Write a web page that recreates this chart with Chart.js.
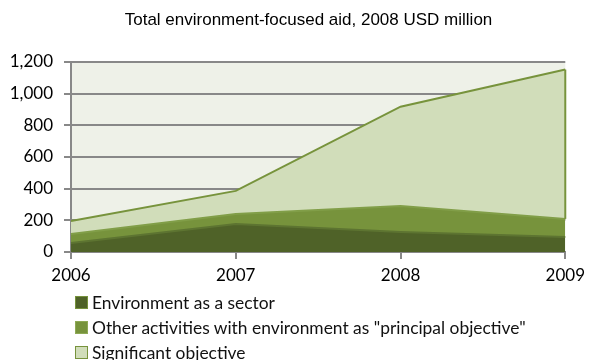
<!DOCTYPE html>
<html>
<head>
<meta charset="utf-8">
<script src="https://cdn.jsdelivr.net/npm/chart.js@4/dist/chart.umd.min.js"></script>
<style>
    html, body { margin: 0; padding: 0; background: #ffffff; }
    #wrap { position: relative; width: 591px; height: 360px; }
    #legend { position: absolute; left: 75px; top: 290px; font-family: Lato, sans-serif; font-size: 17.4px; color: #111; }
    .item { position: relative; height: 25px; line-height: 25px; padding-left: 17px; white-space: nowrap; }
    .box { position: absolute; left: 0; top: 6px; width: 11px; height: 11px; border: 1px solid; }
</style>
</head>
<body>
<div id="wrap">
    <canvas id="chart" width="591" height="360"></canvas>
    <div id="legend"></div>
</div>
<script>
const years = ['2006', '2007', '2008', '2009'];
const sectorValues = [57, 177, 127, 95];
const principalValues = [57, 63, 164, 114];
const significantValues = [82, 146, 627, 943];
const seriesNames = ['Environment as a sector', 'Other activities with environment as "principal objective"', 'Significant objective'];
const yTicks = [0, 200, 400, 600, 800, 1000, 1200];

const fills = ['#4f6228', '#77933c', '#d1ddba'];
const edges = ['#5d7431', '#819e48', '#77933c'];
const boxEdges = ['#77933c', '#8eaa55', '#77933c'];

const plotBackground = {
    id: 'plotBackground',
    beforeDraw(chart) {
        const { ctx, chartArea } = chart;
        ctx.save();
        ctx.fillStyle = '#eef1e8';
        ctx.fillRect(chartArea.left, chartArea.top, chartArea.right - chartArea.left, chartArea.bottom - chartArea.top);
        ctx.restore();
    },
};

// the original title sits a little right of the canvas centre
const shiftTitle = {
    id: 'shiftTitle',
    afterLayout(chart) {
        if (chart.titleBlock) {
            chart.titleBlock.left = 48;
            chart.titleBlock.right = 569;
        }
    },
};

// Excel closes the top series outline down its right edge
const rightEdge = {
    id: 'rightEdge',
    afterDatasetsDraw(chart) {
        const top = chart.getDatasetMeta(2).data;
        const below = chart.getDatasetMeta(1).data;
        const last = top.length - 1;
        const { ctx } = chart;
        ctx.save();
        ctx.strokeStyle = edges[2];
        ctx.lineWidth = 2;
        ctx.beginPath();
        ctx.moveTo(top[last].x, top[last].y);
        ctx.lineTo(below[last].x, below[last].y);
        ctx.stroke();
        ctx.restore();
    },
};

const chart = new Chart(document.getElementById('chart'), {
    type: 'line',
    data: {
        labels: years,
        datasets: [sectorValues, principalValues, significantValues].map((values, index) => ({
            label: seriesNames[index],
            data: values,
            backgroundColor: fills[index],
            borderColor: edges[index],
            borderWidth: 2,
            fill: index === 0 ? 'origin' : '-1',
            tension: 0,
            pointRadius: 0,
        })),
    },
    options: {
        responsive: false,
        animation: false,
        layout: { padding: { top: 0, right: 22, bottom: 0, left: 0 } },
        plugins: {
            legend: { display: false },
            tooltip: { enabled: false },
            title: {
                display: true,
                text: 'Total environment-focused aid, 2008 USD million',
                color: '#000000',
                font: { family: '"Liberation Sans", Arial, sans-serif', size: 17, weight: 'normal', lineHeight: 1.2 },
                padding: { top: 10.5, bottom: 31.1 },
            },
        },
        scales: {
            x: {
                offset: false,
                grid: { drawOnChartArea: false, drawTicks: true, tickLength: 7, color: '#888888', lineWidth: 2 },
                border: { display: true, color: '#888888', width: 2 },
                ticks: { color: '#000000', padding: 6, maxRotation: 0, font: { family: 'Lato, sans-serif', size: 17 } },
                afterFit(scale) { scale.height = 108; },
            },
            y: {
                stacked: true,
                min: 0,
                max: 1200,
                afterBuildTicks(scale) { scale.ticks = yTicks.map((value) => ({ value })); },
                grid: { color: '#888888', lineWidth: 2, tickLength: 7 },
                border: { display: true, color: '#888888', width: 2 },
                ticks: {
                    color: '#000000',
                    padding: 11,
                    font: { family: 'Lato, sans-serif', size: 17 },
                    callback: (value) => value.toLocaleString('en-US'),
                },
                afterFit(scale) { scale.width = 71; },
            },
        },
    },
    plugins: [plotBackground, shiftTitle, rightEdge],
});

const legend = document.getElementById('legend');
seriesNames.forEach((name, index) => {
    const item = document.createElement('div');
    item.className = 'item';
    const box = document.createElement('span');
    box.className = 'box';
    box.style.background = fills[index];
    box.style.borderColor = boxEdges[index];
    item.appendChild(box);
    item.appendChild(document.createTextNode(name));
    legend.appendChild(item);
});
</script>
</body>
</html>
